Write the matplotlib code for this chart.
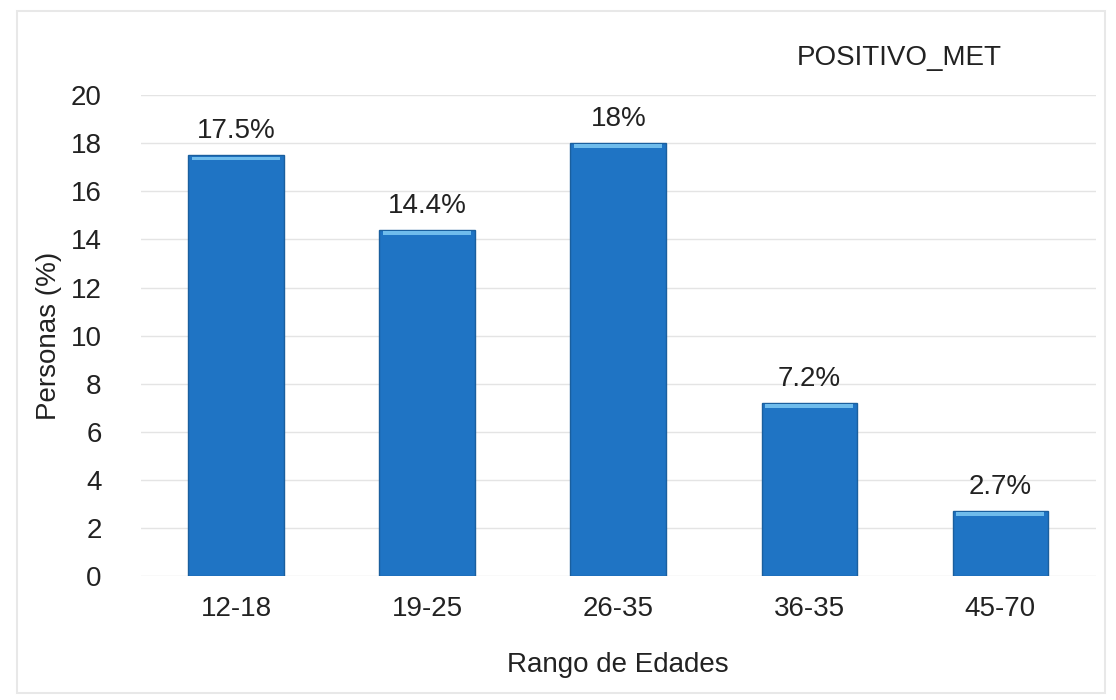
import matplotlib.pyplot as plt
import numpy as np

plt.rcParams['font.family'] = ['Liberation Sans', 'DejaVu Sans']

categorias = ['12-18', '19-25', '26-35', '36-35', '45-70']
valores = [17.5, 14.4, 18, 7.2, 2.7]
etiquetas = ['17.5%', '14.4%', '18%', '7.2%', '2.7%']
yticks = [0, 2, 4, 6, 8, 10, 12, 14, 16, 18, 20]

fig = plt.figure(figsize=(11.16, 7.0), dpi=100)
ax = fig.add_axes([0.126, 0.177, 0.856, 0.687])

x = np.arange(len(categorias))
bars = ax.bar(x, valores, width=0.5, color='#1f74c4', edgecolor='#1a5f9e',
              linewidth=1.0, zorder=3)
# lighter top highlight like the 3d effect
ax.bar(x, [0.15] * len(x), bottom=np.array(valores) - 0.2, width=0.46,
       color='#6fbcec', linewidth=0, zorder=4)

for xi, v, t in zip(x, valores, etiquetas):
    ax.text(xi, v + 0.45, t, ha='center', va='bottom', fontsize=20, color='#222222')

ax.set_xlim(-0.5, len(categorias) - 0.5)
ax.set_ylim(0, 20)
ax.set_yticks(yticks)
ax.set_xticks(x)
ax.set_xticklabels(categorias)
ax.tick_params(axis='both', length=0, labelsize=20, colors='#222222')
ax.tick_params(axis='x', pad=14)
ax.tick_params(axis='y', pad=28)
ax.grid(axis='y', color='#e4e4e4', linewidth=1.0, zorder=0)
for s in ax.spines.values():
    s.set_visible(False)

ax.set_ylabel('Personas (%)', fontsize=20, color='#222222', labelpad=6)
ax.set_xlabel('Rango de Edades', fontsize=20, color='#222222', labelpad=22)
fig.text(0.806, 0.917, 'POSITIVO_MET', ha='center', va='center', fontsize=20, color='#222222')

# light border around the figure
fig.patches.append(plt.Rectangle((0.015, 0.01), 0.975, 0.975, transform=fig.transFigure,
                                 fill=False, edgecolor='#e8e8e8', linewidth=1.5))

fig.savefig('out.png', dpi=100, facecolor='white')
